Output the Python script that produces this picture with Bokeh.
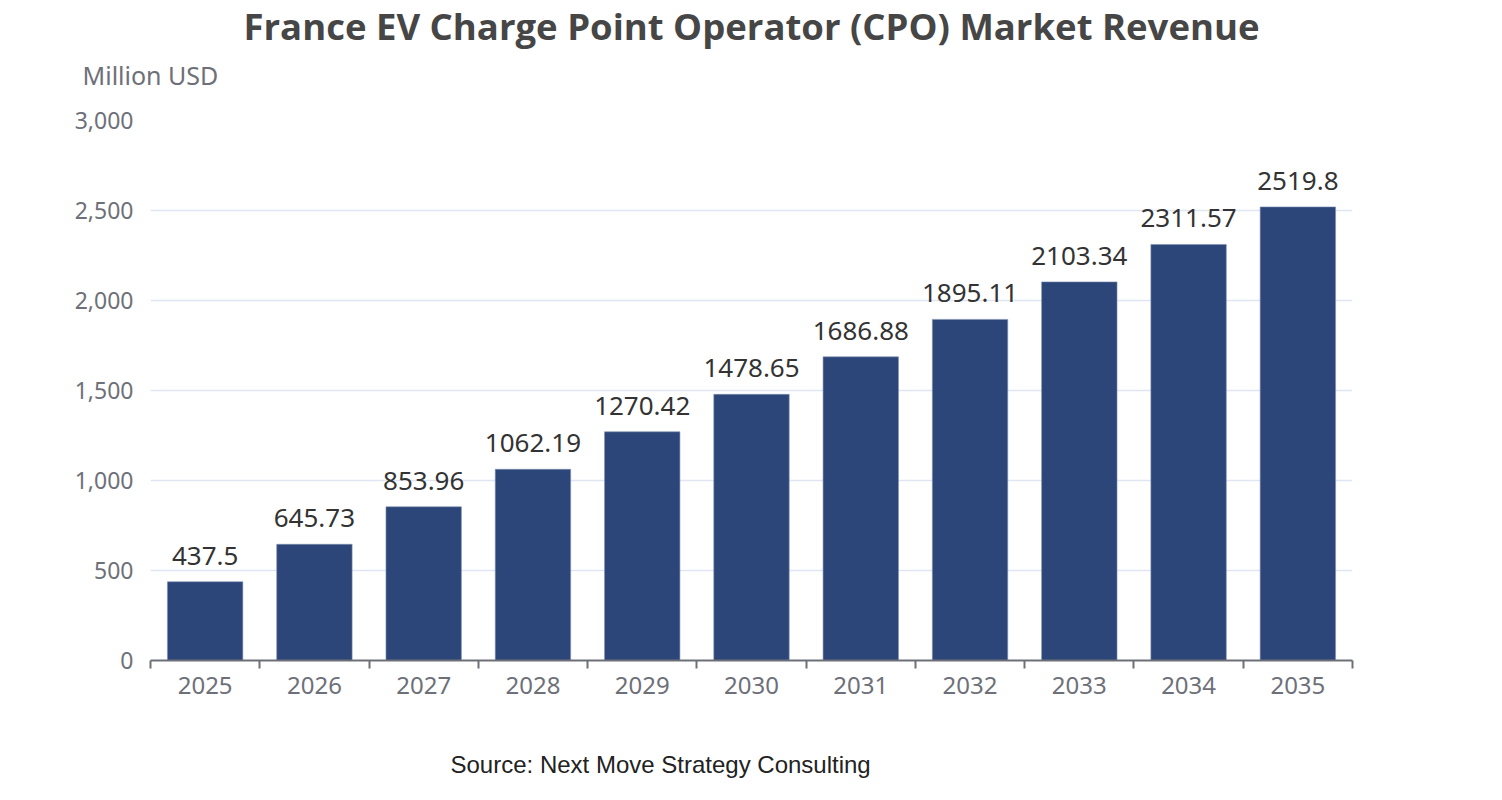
from bokeh.plotting import figure
from bokeh.models import ColumnDataSource, FixedTicker, NumeralTickFormatter, Title, Range1d
from bokeh.embed import file_html
from bokeh.resources import INLINE

years = [2025, 2026, 2027, 2028, 2029, 2030, 2031, 2032, 2033, 2034, 2035]
revenue = [437.5, 645.73, 853.96, 1062.19, 1270.42, 1478.65, 1686.88, 1895.11, 2103.34, 2311.57, 2519.8]
value_labels = ["437.5", "645.73", "853.96", "1062.19", "1270.42", "1478.65", "1686.88",
                "1895.11", "2103.34", "2311.57", "2519.8"]
y_ticks = [0, 500, 1000, 1500, 2000, 2500, 3000]
title_text = "France EV Charge Point Operator (CPO) Market Revenue"
unit_text = "Million USD"
source_text = "Source: Next Move Strategy Consulting"

W, H = 1494, 792
x0, x1 = years[0] - 0.5, years[-1] + 0.5
y0, y1 = 0, 3000

p = figure(width=W, height=H, output_backend="svg", toolbar_location=None,
           x_range=Range1d(x0, x1), y_range=Range1d(y0, y1),
           min_border_left=150, min_border_right=142, min_border_top=120, min_border_bottom=132)
p.outline_line_color = None
p.background_fill_color = "white"
p.border_fill_color = "white"

src = ColumnDataSource(dict(x=years, top=revenue, lab=value_labels))
p.vbar(x="x", top="top", width=0.69, source=src, fill_color="#2C4679",
       line_color="#7F8FB0", line_width=1, line_alpha=0.6)
p.text(x="x", y="top", text="lab", source=src, text_align="center", text_baseline="middle",
       y_offset=-26, text_font_size="26px", text_color="#333333",
       text_font={"value": "Noto Sans"})

# x axis
p.xaxis.ticker = FixedTicker(ticks=years, minor_ticks=[y - 0.5 for y in years] + [years[-1] + 0.5])
p.xaxis.major_tick_line_color = None
p.xaxis.minor_tick_out = 8
p.xaxis.minor_tick_in = 0
p.xaxis.minor_tick_line_color = "#6E7079"
p.xaxis.minor_tick_line_width = 2
p.xaxis.axis_line_color = "#6E7079"
p.xaxis.axis_line_width = 2
p.xaxis.major_label_text_font_size = "24px"
p.xaxis.major_label_text_color = "#6E7079"
p.xaxis.major_label_text_font = "Noto Sans"
p.xaxis.major_label_standoff = 8
p.xgrid.grid_line_color = None

# y axis
p.yaxis.ticker = FixedTicker(ticks=y_ticks)
p.yaxis.formatter = NumeralTickFormatter(format="0,0")
p.yaxis.axis_line_color = None
p.yaxis.major_tick_line_color = None
p.yaxis.minor_tick_line_color = None
p.yaxis.major_label_text_font_size = "23px"
p.yaxis.major_label_text_color = "#6E7079"
p.yaxis.major_label_text_font = "Noto Sans"
p.yaxis.major_label_standoff = 11
p.ygrid.grid_line_color = "#E0E6F1"
p.ygrid.grid_line_width = 1.5

t_unit = Title(text=unit_text, align="left", offset=-68, standoff=58,
               text_font_size="25px", text_font_style="normal", text_color="#6E7079",
               text_font="Noto Sans")
t_main = Title(text=title_text, align="center", standoff=-48,
               text_font_size="36.5px", text_font_style="bold", text_color="#464646",
               text_font="Open Sans")
p.add_layout(t_unit, "above")
p.add_layout(t_main, "above")

t_gap = Title(text=" ", align="left", standoff=48, text_font_size="2px")
t_src = Title(text=source_text, align="left", offset=300, standoff=0,
              text_font_size="24px", text_font_style="normal", text_color="#222222",
              text_font="Liberation Sans")
p.add_layout(t_gap, "below")
p.add_layout(t_src, "below")

open("out.html", "w").write(file_html(p, INLINE))
